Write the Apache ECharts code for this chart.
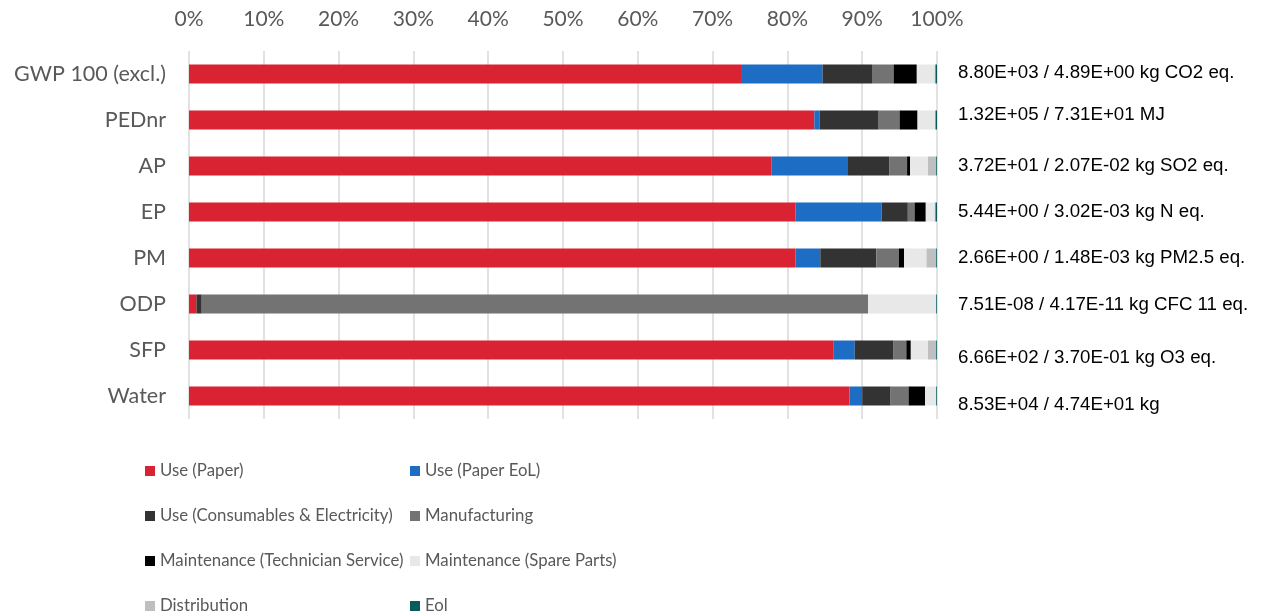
<!DOCTYPE html>
<html>
<head>
<meta charset="utf-8">
<script src="https://cdn.jsdelivr.net/npm/echarts@6/dist/echarts.min.js"></script>
<style>
  html, body { margin: 0; padding: 0; background: #fff; }
  #chart { width: 1264px; height: 616px; }
</style>
</head>
<body>
<div id="chart"></div>
<script>
// impact categories, top to bottom
var categories = ['GWP 100 (excl.)', 'PEDnr', 'AP', 'EP', 'PM', 'ODP', 'SFP', 'Water'];
// totals written to the right of each bar
var totals = [
  '8.80E+03 / 4.89E+00 kg CO2 eq.',
  '1.32E+05 / 7.31E+01 MJ',
  '3.72E+01 / 2.07E-02 kg SO2 eq.',
  '5.44E+00 / 3.02E-03 kg N eq.',
  '2.66E+00 / 1.48E-03 kg PM2.5 eq.',
  '7.51E-08 / 4.17E-11 kg CFC 11 eq.',
  '6.66E+02 / 3.70E-01 kg O3 eq.',
  '8.53E+04 / 4.74E+01 kg'
];
var xTicks = [0, 10, 20, 30, 40, 50, 60, 70, 80, 90, 100];

// share of each life-cycle stage, % (same order as categories)
var usePaper        = [73.8, 83.6, 77.9, 81.1, 81.1,  1.0, 86.2, 88.3];
var usePaperEol     = [10.9,  0.7, 10.2, 11.5,  3.3,  0.0,  2.8,  1.7];
var useConsumables  = [ 6.7,  7.9,  5.5,  3.5,  7.5,  0.7,  5.2,  3.8];
var manufacturing   = [ 2.8,  2.8,  2.4,  0.9,  3.0, 89.1,  1.7,  2.4];
var maintTechnician = [ 3.1,  2.4,  0.4,  1.5,  0.7,  0.0,  0.6,  2.2];
var maintSpare      = [ 2.4,  2.4,  2.4,  1.2,  3.0,  9.1,  2.3,  1.5];
var distribution    = [ 0.1,  0.0,  1.1,  0.1,  1.3,  0.0,  1.1,  0.0];
var eol             = [ 0.2,  0.2,  0.1,  0.2,  0.1,  0.1,  0.1,  0.1];

var seriesDefs = [
  ['Use (Paper)', usePaper, '#d92232'],
  ['Use (Paper EoL)', usePaperEol, '#1c6dc3'],
  ['Use (Consumables & Electricity)', useConsumables, '#333333'],
  ['Manufacturing', manufacturing, '#737373'],
  ['Maintenance (Technician Service)', maintTechnician, '#000000'],
  ['Maintenance (Spare Parts)', maintSpare, '#e8e8e8'],
  ['Distribution', distribution, '#bfbfbf'],
  ['Eol', eol, '#075b5c']
];

var font = 'Lato';
var grey = '#595959';

// the total labels on the right sit a little off their bars in the original
var totalShift = [-1, -5, 0, 0, 0, 1, 8, 9];
var totalRich = {};
totalShift.forEach(function (s, i) {
  totalRich['t' + i] = {
    fontFamily: 'Liberation Sans',
    fontSize: 18.7,
    color: '#000',
    padding: s >= 0 ? [2 * s, 0, 0, 0] : [0, 0, -2 * s, 0]
  };
});

var chart = echarts.init(document.getElementById('chart'));

var series = seriesDefs.map(function (d) {
  return {
    name: d[0],
    type: 'bar',
    stack: 'total',
    barWidth: 19,
    data: d[1],
    itemStyle: { color: d[2] }
  };
});

// legend: two columns, four rows, one legend box per entry
var legends = seriesDefs.map(function (d, i) {
  return {
    left: i % 2 === 0 ? 145 : 410,
    top: 461 + Math.floor(i / 2) * 45,
    itemWidth: 10,
    itemHeight: 10,
    icon: 'rect',
    padding: 0,
    textStyle: { color: grey, fontFamily: font, fontSize: 16.8, lineHeight: 20 },
    data: [d[0]]
  };
});

chart.setOption({
  animation: false,
  grid: { left: 189, right: 327, top: 51, height: 368, containLabel: false },
  legend: legends,
  xAxis: {
    type: 'value',
    position: 'top',
    min: xTicks[0],
    max: xTicks[xTicks.length - 1],
    interval: 10,
    axisLine: { show: false },
    axisTick: { show: false },
    axisLabel: {
      margin: 21,
      color: grey,
      fontFamily: font,
      fontSize: 21,
      formatter: function (v) { return v + '%'; }
    },
    splitLine: { lineStyle: { color: '#d9d9d9', width: 1.5 } }
  },
  yAxis: [
    {
      type: 'category',
      inverse: true,
      data: categories,
      axisLine: { show: false },
      axisTick: { show: false },
      axisLabel: { margin: 23, color: grey, fontFamily: font, fontSize: 21.5 }
    },
    {
      type: 'category',
      inverse: true,
      position: 'right',
      data: totals,
      axisLine: { show: false },
      axisTick: { show: false },
      axisLabel: {
        margin: 21, color: '#000', fontFamily: 'Liberation Sans', fontSize: 18.7,
        formatter: function (v, i) { return '{t' + i + '|' + v + '}'; },
        rich: totalRich
      }
    }
  ],
  series: series
});
</script>
</body>
</html>
